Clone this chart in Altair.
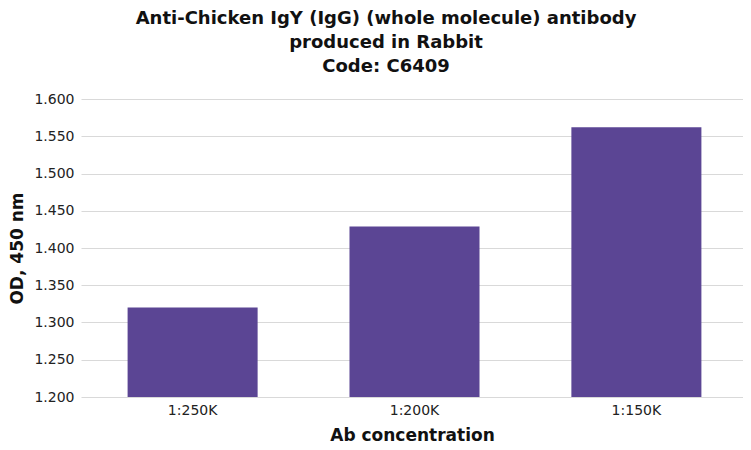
import altair as alt
import pandas as pd

categories = ["1:250K", "1:200K", "1:150K"]
values = [1.320, 1.429, 1.562]

df = pd.DataFrame({"conc": categories, "od": values})

font = "DejaVu Sans"

chart = alt.Chart(df).mark_bar(color="#5b4594", clip=True).encode(
    x=alt.X("conc:N", sort=categories, title="Ab concentration",
            scale=alt.Scale(paddingInner=0.414, paddingOuter=0.21, range=[0, 667]),
            axis=alt.Axis(labelAngle=0, ticks=False, domain=False, grid=False,
                          labelFont=font, labelFontSize=14, labelColor="#222",
                          labelPadding=6, titleFont=font, titleFontSize=17,
                          titleFontWeight="bold", titleColor="#111", titlePadding=10,
                          titleX=331)),
    y=alt.Y("od:Q", title="OD, 450 nm",
            scale=alt.Scale(domain=[1.2, 1.6], nice=False, zero=False),
            axis=alt.Axis(values=[1.2, 1.25, 1.3, 1.35, 1.4, 1.45, 1.5, 1.55, 1.6],
                          format=".3f", ticks=False, domain=False,
                          gridColor="#d9d9d9", gridWidth=1,
                          labelFont=font, labelFontSize=14, labelColor="#222",
                          labelPadding=7, titleFont=font, titleFontSize=17,
                          titleFontWeight="bold", titleColor="#111", titlePadding=7)),
).properties(
    width=662,
    height=298,
    autosize=alt.AutoSizeParams(type="none"),
    padding={"left": 73, "top": 91, "right": 0, "bottom": 50},
    title=alt.TitleParams(
        text=["Anti-Chicken IgY (IgG) (whole molecule) antibody",
              "produced in Rabbit", "Code: C6409"],
        font=font, fontSize=18, fontWeight="bold", color="#111",
        anchor="middle", dx=-26, lineHeight=24, offset=16),
).configure_view(stroke=None)

chart.save("out.html", embed_options={"renderer": "svg", "actions": False})
